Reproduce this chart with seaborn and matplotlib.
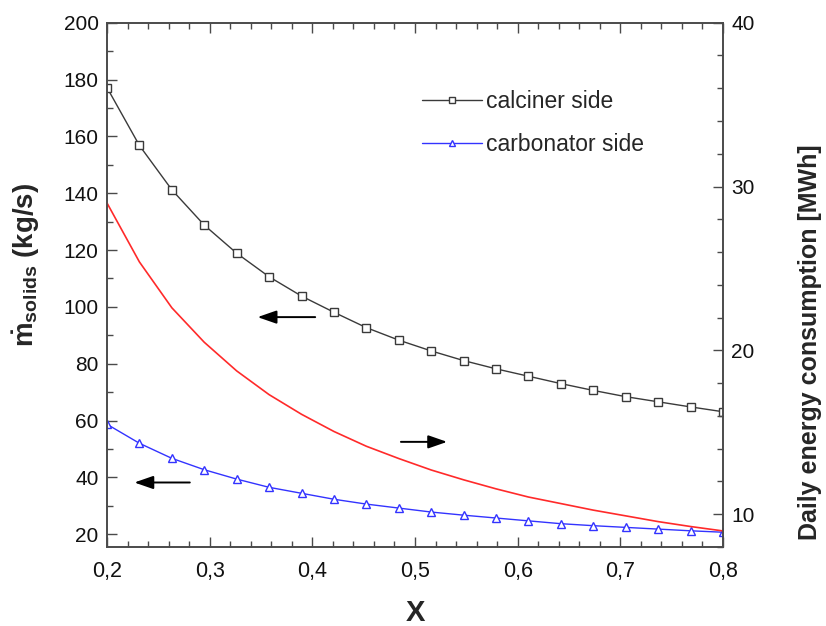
import numpy as np
import pandas as pd
import matplotlib
matplotlib.use("Agg")
import matplotlib.pyplot as plt
from matplotlib.ticker import MultipleLocator, FuncFormatter
from matplotlib.lines import Line2D
import seaborn as sns

# ---------------- data ----------------
x_values = [0.2000, 0.2316, 0.2632, 0.2947, 0.3263, 0.3579, 0.3895, 0.4211, 0.4526, 0.4842,
            0.5158, 0.5474, 0.5789, 0.6105, 0.6421, 0.6737, 0.7053, 0.7368, 0.7684, 0.8000]
calciner = [177.2, 156.8, 141.2, 128.8, 118.9, 110.6, 103.8, 98.1, 92.7, 88.3,
            84.5, 81.1, 78.2, 75.6, 73.0, 70.6, 68.4, 66.6, 64.8, 63.1]
carbonator = [58.7, 52.0, 46.7, 42.7, 39.4, 36.5, 34.4, 32.3, 30.6, 29.2,
              27.8, 26.7, 25.7, 24.7, 23.7, 23.0, 22.4, 21.8, 21.2, 20.7]
energy = [29.0, 25.4, 22.6, 20.5, 18.75, 17.3, 16.1, 15.05, 14.15, 13.4,
          12.7, 12.1, 11.55, 11.05, 10.65, 10.25, 9.9, 9.55, 9.25, 8.98]
series_names = ["calciner side", "carbonator side"]

df = pd.DataFrame({"X": x_values, "calciner": calciner,
                   "carbonator": carbonator, "energy": energy})

# ---------------- style ----------------
sns.set_style("ticks")
plt.rcParams["font.family"] = ["Liberation Sans", "DejaVu Sans"]
plt.rcParams["mathtext.fontset"] = "custom"
plt.rcParams["mathtext.rm"] = "Liberation Sans"
plt.rcParams["mathtext.bf"] = "Liberation Sans:bold"
plt.rcParams["mathtext.it"] = "Liberation Sans:italic"

fig = plt.figure(figsize=(8.26, 6.26), dpi=100)
ax = fig.add_axes([0.1295, 0.1262, 0.7458, 0.8375])
ax2 = ax.twinx()

axis_col = "#4a4a4a"
c_calc = "#3a3a3a"
c_carb = "#3333ff"
c_en = "#ff2a2a"

sns.lineplot(data=df, x="X", y="calciner", ax=ax, color=c_calc, lw=1.0,
             marker="s", markersize=5.5, markerfacecolor="white",
             markeredgecolor=c_calc, markeredgewidth=1.0)
sns.lineplot(data=df, x="X", y="carbonator", ax=ax, color=c_carb, lw=1.0,
             marker="^", markersize=5.5, markerfacecolor="white",
             markeredgecolor=c_carb, markeredgewidth=1.0)
sns.lineplot(data=df, x="X", y="energy", ax=ax2, color=c_en, lw=1.2)

ax.set_xlim(0.2, 0.8)
ax.set_ylim(15.5, 200)
ax2.set_ylim(8.0, 40)

ax.xaxis.set_major_locator(MultipleLocator(0.1))
ax.xaxis.set_minor_locator(MultipleLocator(0.02))
ax.yaxis.set_major_locator(MultipleLocator(20))
ax.yaxis.set_minor_locator(MultipleLocator(10))
ax2.yaxis.set_major_locator(MultipleLocator(10))
ax2.yaxis.set_minor_locator(MultipleLocator(2))

ax.xaxis.set_major_formatter(FuncFormatter(lambda v, p: f"{v:.1f}".replace(".", ",")))
ax.yaxis.set_major_formatter(FuncFormatter(lambda v, p: f"{v:.0f}"))
ax2.yaxis.set_major_formatter(FuncFormatter(lambda v, p: f"{v:.0f}"))

for a in (ax, ax2):
    for s in a.spines.values():
        s.set_color(axis_col)
        s.set_linewidth(1.2)
        s.set_visible(True)

ax.tick_params(axis="x", which="both", direction="in", top=True, bottom=True,
               colors=axis_col, labelcolor="#111111", labelsize=15.5, pad=10)
ax.tick_params(axis="y", which="both", direction="in", left=True, right=False,
               colors=axis_col, labelcolor="#111111", labelsize=15, pad=6)
ax.tick_params(which="major", length=7, width=1.0)
ax.tick_params(which="minor", length=4, width=1.0)
ax2.tick_params(axis="y", which="both", direction="in", right=True,
                colors=axis_col, labelcolor="#111111", labelsize=15, pad=6)
ax2.tick_params(which="major", length=7, width=1.0)
ax2.tick_params(which="minor", length=4, width=1.0)

ax.set_xlabel("X", fontsize=21, fontweight="bold", labelpad=12)
ax.set_ylabel(r"$\mathbf{\dot{m}_{solids}}$ (kg/s)", fontsize=20, fontweight="bold")
ax.yaxis.set_label_coords(-0.105, 0.538)
ax2.set_ylabel("Daily energy consumption [MWh]", fontsize=18, fontweight="bold")
ax2.yaxis.set_label_coords(1.122, 0.39)

# arrows
arrow_kw = dict(arrowstyle="-|>,head_length=1.15,head_width=0.4", color="black", lw=1.4)
ax.annotate("", xy=(0.344, 96.4), xytext=(0.4055, 96.4), arrowprops=arrow_kw)
ax.annotate("", xy=(0.224, 38.2), xytext=(0.2834, 38.2), arrowprops=arrow_kw)
ax.annotate("", xy=(0.534, 52.5), xytext=(0.4836, 52.5), arrowprops=arrow_kw)

# legend
handles = [
    Line2D([], [], color=c_calc, lw=1.0, marker="s", markersize=4.5,
           markerfacecolor="white", markeredgecolor=c_calc),
    Line2D([], [], color=c_carb, lw=1.0, marker="^", markersize=4.5,
           markerfacecolor="white", markeredgecolor=c_carb),
]
leg = ax.legend(handles, series_names, loc="upper left", bbox_to_anchor=(0.497, 0.89),
                frameon=False, fontsize=16.5, handlelength=2.6, handletextpad=0.2,
                labelspacing=0.9, borderaxespad=0)

fig.savefig("out.png", dpi=100)
